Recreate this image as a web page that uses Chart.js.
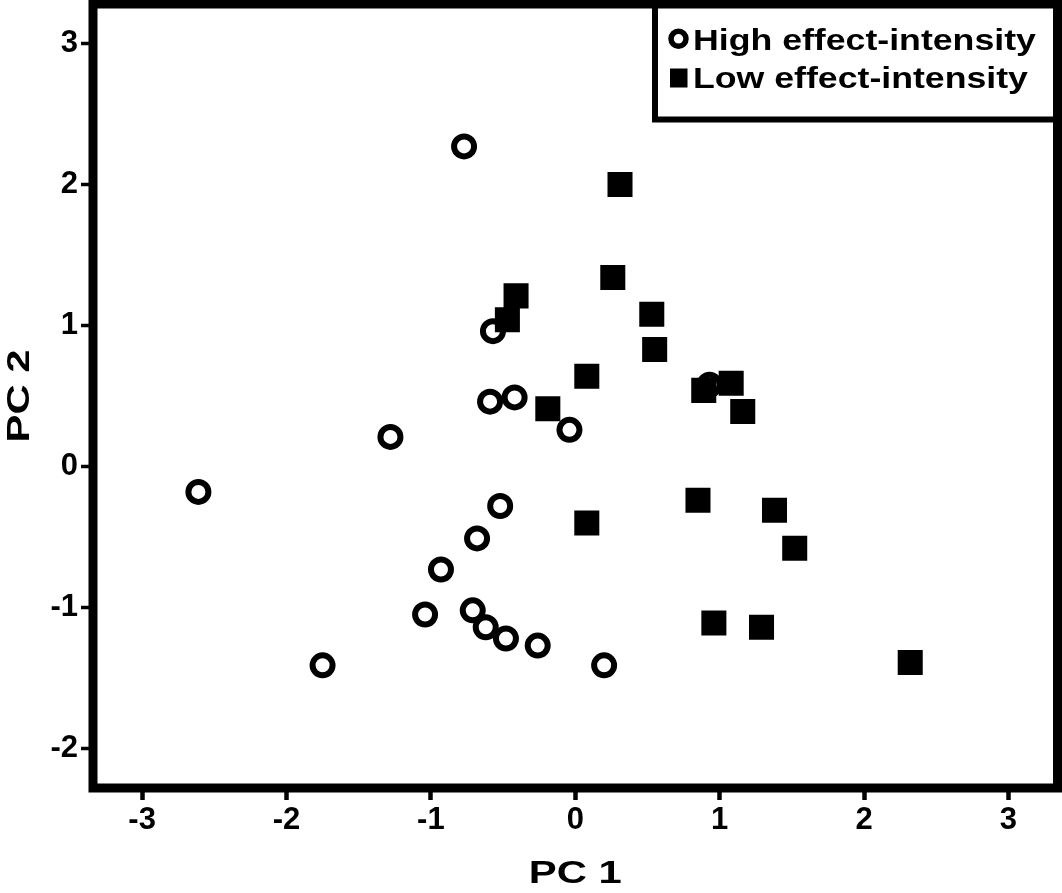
<!DOCTYPE html>
<html>
<head>
<meta charset="utf-8">
<script src="https://cdn.jsdelivr.net/npm/chart.js@4/dist/chart.umd.min.js"></script>
<style>
  body { margin: 0; background: #fff; }
  #wrap { width: 1062px; height: 893px; }
</style>
</head>
<body>
<div id="wrap"><canvas id="pca" width="1062" height="893"></canvas></div>
<script>
// PC scores
const highLabel = "High effect-intensity";
const highX = [-0.77, -2.61, -1.75, -1.28, -1.04, -0.93, -0.71, -0.68, -0.62, -0.48, -0.26, -0.52, -0.57, -0.59, -0.42, -0.04, 0.20, 0.93];
const highY = [2.27, -0.18, -1.41, 0.21, -1.05, -0.73, -1.02, -0.51, -1.14, -1.22, -1.27, -0.28, 0.96, 0.46, 0.49, 0.26, -1.41, 0.58];

const lowLabel = "Low effect-intensity";
const lowX = [0.31, 0.26, -0.41, -0.47, 0.53, 0.55, 0.08, -0.19, 0.08, 0.89, 1.08, 1.16, 0.85, 1.38, 1.52, 0.96, 1.29, 2.32];
const lowY = [2.00, 1.34, 1.21, 1.04, 1.08, 0.83, 0.64, 0.41, -0.40, 0.54, 0.59, 0.39, -0.24, -0.31, -0.58, -1.11, -1.14, -1.39];

const xTitle = "PC 1";
const yTitle = "PC 2";

function toPoints(xs, ys) {
  return xs.map((x, i) => ({ x: x, y: ys[i] }));
}

const FONT = '"Liberation Sans", Arial, sans-serif';

// draw stretched text (the original figure uses wide lettering)
function wideText(ctx, text, x, y, size, stretch, align) {
  ctx.save();
  ctx.font = "bold " + size + "px " + FONT;
  const w = ctx.measureText(text).width * stretch;
  ctx.translate(align === "center" ? x - w / 2 : x, y);
  ctx.scale(stretch, 1);
  ctx.textAlign = "left";
  ctx.textBaseline = "alphabetic";
  ctx.fillStyle = "#000";
  ctx.fillText(text, 0, 0);
  ctx.restore();
}

const framePlugin = {
  id: "frame",
  afterDraw(chart) {
    const ctx = chart.ctx;
    const a = chart.chartArea;

    // legend box in the top-right corner
    ctx.save();
    ctx.fillStyle = "#fff";
    ctx.fillRect(655, a.top, a.right - 655, 119.5 - a.top);
    ctx.lineWidth = 6;
    ctx.strokeStyle = "#000";
    ctx.strokeRect(655, a.top, a.right - 655, 119.5 - a.top);

    // circle marker
    ctx.beginPath();
    ctx.arc(678.5, 38.8, 7.5, 0, Math.PI * 2);
    ctx.lineWidth = 5.5;
    ctx.stroke();
    // square marker
    ctx.fillStyle = "#000";
    ctx.fillRect(670, 68.5, 17.5, 19);
    ctx.restore();

    wideText(ctx, chart.data.datasets[0].label, 693, 50, 29, 1.23, "left");
    wideText(ctx, chart.data.datasets[1].label, 693, 88, 29, 1.23, "left");

    // plot frame
    ctx.save();
    ctx.lineWidth = 9;
    ctx.strokeStyle = "#000";
    ctx.strokeRect(a.left, a.top, a.right - a.left, a.bottom - a.top);
    ctx.restore();

    // axis titles
    wideText(ctx, xTitle, (a.left + a.right) / 2, 883, 31, 1.35, "center");
    ctx.save();
    ctx.translate(29, (a.top + a.bottom) / 2);
    ctx.rotate(-Math.PI / 2);
    wideText(ctx, yTitle, 0, 0, 31, 1.35, "center");
    ctx.restore();
  }
};

const tickFont = { family: FONT, size: 31, weight: "bold" };

new Chart(document.getElementById("pca"), {
  type: "scatter",
  data: {
    datasets: [
      {
        label: highLabel,
        data: toPoints(highX, highY),
        pointStyle: "circle",
        pointRadius: 10,
        pointBorderWidth: 6,
        pointBorderColor: "#000",
        pointBackgroundColor: "#fff",
        order: 1
      },
      {
        label: lowLabel,
        data: toPoints(lowX, lowY),
        pointStyle: "rect",
        pointRadius: 17.7,
        pointBorderWidth: 0,
        pointBackgroundColor: "#000",
        order: 0
      }
    ]
  },
  options: {
    responsive: false,
    animation: false,
    events: [],
    layout: { autoPadding: false, padding: { left: 0, right: 4.5, top: 4, bottom: 0 } },
    plugins: {
      legend: { display: false },
      tooltip: { enabled: false }
    },
    scales: {
      x: {
        type: "linear",
        min: -3.34,
        max: 3.34,
        afterFit: s => { s.height = 105; s.paddingLeft = 0; s.paddingRight = 0; },
        border: { display: false },
        grid: {
          drawOnChartArea: false,
          drawTicks: true,
          tickLength: 12,
          tickWidth: 4.5,
          tickColor: "#000"
        },
        ticks: {
          stepSize: 1,
          includeBounds: false,
          color: "#000",
          font: tickFont,
          padding: 2,
          maxRotation: 0
        }
      },
      y: {
        type: "linear",
        min: -2.28,
        max: 3.28,
        afterFit: s => { s.width = 93; s.paddingTop = 0; s.paddingBottom = 0; },
        border: { display: false },
        grid: {
          drawOnChartArea: false,
          drawTicks: true,
          tickLength: 12,
          tickWidth: 3.5,
          tickColor: "#000"
        },
        ticks: {
          stepSize: 1,
          includeBounds: false,
          color: "#000",
          font: tickFont,
          padding: 3
        }
      }
    }
  },
  plugins: [framePlugin]
});
</script>
</body>
</html>
